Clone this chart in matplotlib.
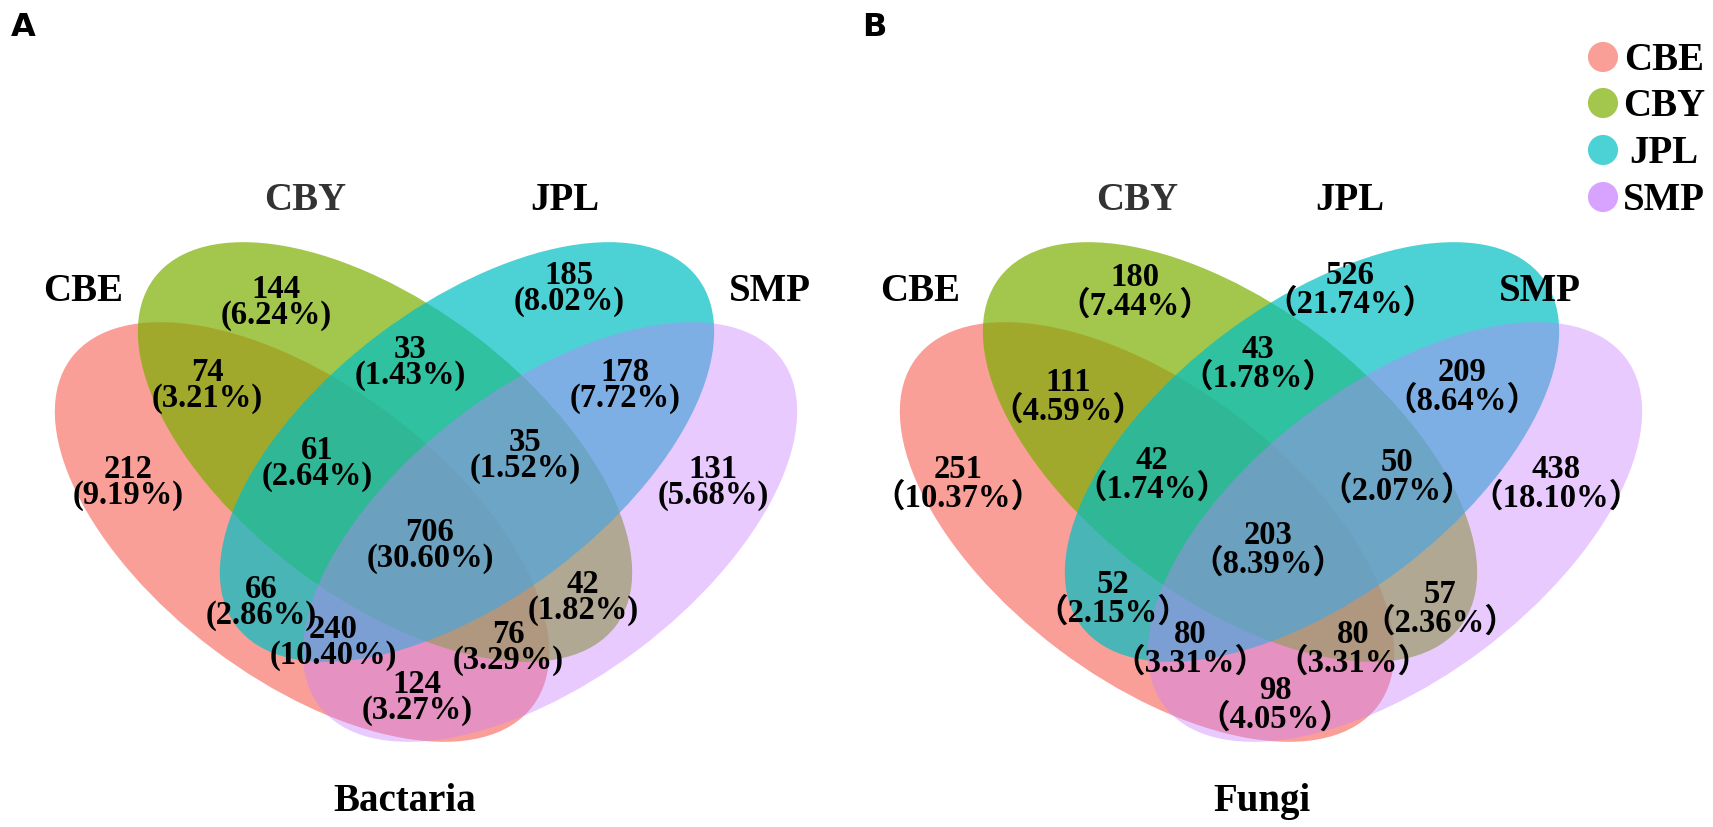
import matplotlib.pyplot as plt
from matplotlib.patches import Ellipse

plt.rcParams["font.family"] = ["Liberation Serif", "Noto Sans CJK SC", "DejaVu Sans"]

sets = ["CBE", "CBY", "JPL", "SMP"]
set_colors = ["#F8766D", "#7CAE00", "#00BFC4", "#C77CFF"]
set_alpha = [0.7, 0.7, 0.7, 0.4]

# region order: 4 singles, then pairs / triples / all going round the diagram
regions = ["CBE", "CBY", "JPL", "SMP", "CBE&CBY", "CBY&JPL", "JPL&SMP",
           "CBE&CBY&JPL", "CBY&JPL&SMP", "ALL", "CBE&JPL", "CBE&JPL&SMP",
           "CBE&SMP", "CBE&CBY&SMP", "CBY&SMP"]

bact_counts = [212, 144, 185, 131, 74, 33, 178, 61, 35, 706, 66, 240, 124, 76, 42]
bact_pcts = ["9.19", "6.24", "8.02", "5.68", "3.21", "1.43", "7.72", "2.64",
             "1.52", "30.60", "2.86", "10.40", "3.27", "3.29", "1.82"]

fungi_counts = [251, 180, 526, 438, 111, 43, 209, 42, 50, 203, 52, 80, 98, 80, 57]
fungi_pcts = ["10.37", "7.44", "21.74", "18.10", "4.59", "1.78", "8.64", "1.74",
              "2.07", "8.39", "2.15", "3.31", "4.05", "3.31", "2.36"]

# layout (pixel coords, y down); text positions are the visual centre of the digits
ell_centers = [(302, 532), (385, 452), (467, 452), (550, 532)]
ell_angles = [37, 37, -37, -37]
ell_a, ell_b = 289, 147

bact_pos = [(128, 467), (276, 287), (569, 273), (713, 467), (207, 370),
            (410, 347), (625, 370), (317, 448), (525, 440), (430, 530),
            (261, 587), (333, 627), (417, 682), (508, 632), (583, 582)]
fungi_pos = [(958, 467), (1135, 275), (1350, 273), (1556, 467), (1068, 380),
             (1258, 347), (1462, 370), (1152, 458), (1397, 460), (1268, 533),
             (1113, 582), (1190, 632), (1275, 688), (1353, 632), (1440, 592)]

NUM_FS = 23.5
NAME_FS = 28


def base(y, fs, frac=0.34):
    # shift from visual centre of glyphs to the baseline
    return y + frac * fs * 100 / 72


fig = plt.figure(figsize=(17.13, 8.27), dpi=100)
ax = fig.add_axes([0, 0, 1, 1])
ax.set_xlim(0, 1713)
ax.set_ylim(827, 0)
ax.axis("off")


def draw_venn(dx, counts, pcts, pos, title, title_x, name_pos, open_p, close_p, gap):
    for (cx, cy), ang, col, al in zip(ell_centers, ell_angles, set_colors, set_alpha):
        ax.add_patch(Ellipse((cx + dx, cy), 2 * ell_a, 2 * ell_b, angle=ang,
                             facecolor=col, alpha=al, edgecolor="none"))
    for n, p, (x, y) in zip(counts, pcts, pos):
        ax.text(x, base(y, NUM_FS), str(n), ha="center", va="baseline",
                fontsize=NUM_FS, fontweight="bold")
        ax.text(x, base(y + gap, NUM_FS), f"{open_p}{p}%{close_p}", ha="center",
                va="baseline", fontsize=NUM_FS, fontweight="bold")
    for s, (x, y) in zip(sets, name_pos):
        ax.text(x, base(y, NAME_FS), s, ha="center", va="baseline", fontsize=NAME_FS,
                fontweight="bold", color="#333333" if s == "CBY" else "black")
    ax.text(title_x, base(798, NAME_FS), title, ha="center", va="baseline",
            fontsize=NAME_FS, fontweight="bold")


draw_venn(0, bact_counts, bact_pcts, bact_pos, "Bactaria", 405,
          [(83, 288), (305, 197), (565, 197), (770, 288)], "(", ")", 26)
draw_venn(845, fungi_counts, fungi_pcts, fungi_pos, "Fungi", 1262,
          [(920, 288), (1137, 197), (1350, 197), (1540, 288)], "\uff08", "\uff09", 29)

ax.text(23, base(25, 23, 0.36), "A", ha="center", va="baseline", fontsize=23,
        fontweight="bold", family="DejaVu Sans")
ax.text(874, base(24, 23, 0.36), "B", ha="center", va="baseline", fontsize=23,
        fontweight="bold", family="DejaVu Sans")

# legend
leg_y = [57, 103, 150, 197]
for s, col, y in zip(sets, set_colors, leg_y):
    ax.scatter([1603], [y], s=470, color=col, alpha=0.7, edgecolors="none")
    ax.text(1664, base(y, NAME_FS), s, ha="center", va="baseline", fontsize=NAME_FS,
            fontweight="bold")

fig.savefig("out.png", dpi=100)
